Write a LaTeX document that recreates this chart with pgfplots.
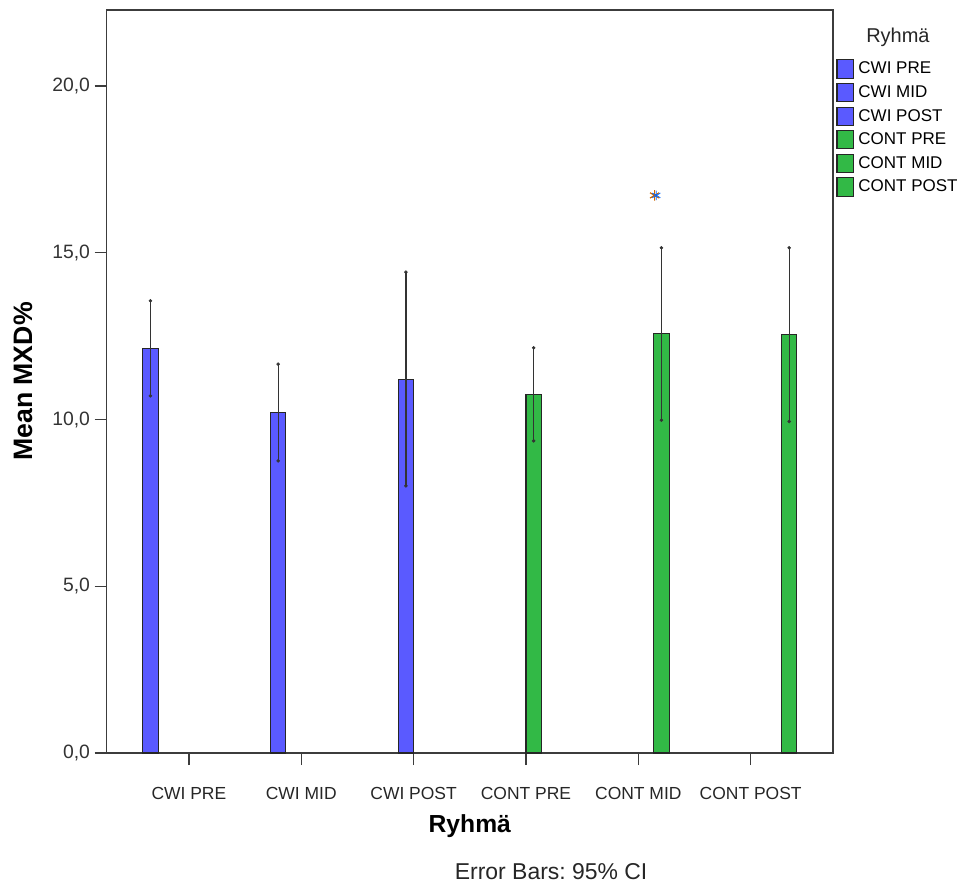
\documentclass[border=0pt]{standalone}
\usepackage{pgfplots}
\pgfplotsset{compat=1.18}
\usepackage{fontspec}
\setmainfont{Liberation Sans}
\frenchspacing
\definecolor{cwi}{RGB}{90,90,255}
\definecolor{cont}{RGB}{50,185,70}
\definecolor{axgray}{RGB}{60,60,60}
\begin{document}
\begin{tikzpicture}
\begin{axis}[
  at={(0,0)}, anchor=south west,
  scale only axis, width=544.7pt, height=557.25pt,
  xmin=0.268, xmax=6.732, ymin=0, ymax=22.28,
  xtick={1,2,3,4,5,6},
  xticklabels={CWI PRE,CWI MID,CWI POST,CONT PRE,CONT MID,CONT POST},
  ytick={0,5,10,15,20},
  xtick pos=left, ytick pos=left,
  tick align=outside, major tick length=9pt,
  tick style={axgray, line width=1pt},
  axis line style={axgray, line width=1.1pt},
  xticklabel style={font=\fontsize{13.1}{15}\selectfont, text=black!85, yshift=-13pt},
  yticklabel style={font=\fontsize{14.5}{17}\selectfont, text=black!80,
    /pgf/number format/fixed, /pgf/number format/fixed zerofill,
    /pgf/number format/precision=1, /pgf/number format/use comma,
    /pgf/number format/assume math mode=true},
  ylabel={\bfseries Mean MXD\%},
  ylabel style={font=\fontsize{20}{24}\selectfont, at={(axis description cs:-0.1152,0.5)}, anchor=center},
  xlabel={\bfseries Ryhmä},
  xlabel style={font=\fontsize{18.5}{22}\selectfont, at={(axis description cs:0.5,0)}, anchor=base, yshift=-59.25pt},
  legend style={at={(1.0045,0.936)}, anchor=north west, draw=none, fill=none,
    font=\fontsize{12.75}{15}\selectfont, inner sep=0pt, row sep=0.9pt,
    nodes={inner sep=3.2pt}},
  legend cell align=left,
  legend image code/.code={\draw[#1, draw=black!85, line width=0.8pt] (0pt,-6.8pt) rectangle (12.5pt,6.8pt);},
  clip=false,
]
\pgfplotsset{
  mybar/.style={ybar, bar width=0.137, bar shift=0pt, draw=black!85, line width=0.8pt, fill=#1,
    error bars/.cd, y dir=both, y explicit,
    error bar style={black!80, line width=1pt},
    error mark=*, error mark options={mark size=1.1pt, black!80}},
}
\addplot[mybar=cwi] coordinates {(0.6575,12.13) += (0,1.43) -= (0,1.42)};
\addlegendentry{CWI PRE}
\addplot[mybar=cwi] coordinates {(1.7945,10.22) += (0,1.44) -= (0,1.46)};
\addlegendentry{CWI MID}
\addplot[mybar=cwi] coordinates {(2.9315,11.21) += (0,3.21) -= (0,3.20)};
\addlegendentry{CWI POST}
\addplot[mybar=cont] coordinates {(4.0685,10.75) += (0,1.40) -= (0,1.39)};
\addlegendentry{CONT PRE}
\addplot[mybar=cont] coordinates {(5.2055,12.58) += (0,2.57) -= (0,2.60)};
\addlegendentry{CONT MID}
\addplot[mybar=cont] coordinates {(6.3425,12.55) += (0,2.60) -= (0,2.61)};
\addlegendentry{CONT POST}
\addplot[only marks, mark=asterisk, mark size=4pt, color=orange!80!black, line width=0.9pt, forget plot] coordinates {(5.145,16.72)};
\addplot[only marks, mark=asterisk, mark size=3.5pt, color=blue!60!cyan, line width=0.6pt, forget plot] coordinates {(5.16,16.72)};
\node[font=\fontsize{15}{18}\selectfont, text=black!85, anchor=base] at (axis description cs:1.0895,0.9556) {Ryhmä};
\node[font=\fontsize{17.2}{20}\selectfont, text=black!85, anchor=base] at (axis description cs:0.612,0) [yshift=-94.5pt] {Error Bars: 95\% CI};
\end{axis}
\pgfresetboundingbox
\path (-80pt,-102.75pt) rectangle (646pt,564.75pt);
\end{tikzpicture}
\end{document}
